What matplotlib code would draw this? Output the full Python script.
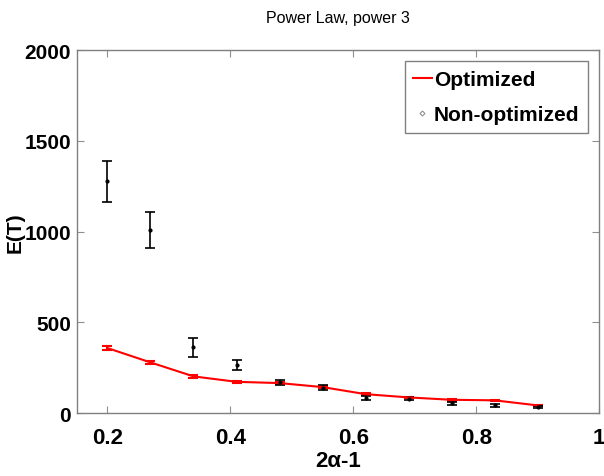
import matplotlib
matplotlib.use("Agg")
import matplotlib.pyplot as plt
from matplotlib.lines import Line2D

# data
alpha = [0.2, 0.27, 0.34, 0.41, 0.48, 0.55, 0.62, 0.69, 0.76, 0.83, 0.90]
optimized = [358, 279, 202, 172, 165, 143, 104, 86, 73, 70, 42]
optimized_err = [12, 8, 7, 6, 5, 5, 5, 4, 4, 4, 4]
non_optimized = [1277, 1010, 362, 264, 170, 140, 82, 78, 53, 44, 33]
non_optimized_err = [113, 98, 53, 29, 14, 14, 10, 8, 8, 8, 8]

x_ticks = [0.2, 0.4, 0.6, 0.8, 1.0]
x_ticklabels = ["0.2", "0.4", "0.6", "0.8", "1"]
y_ticks = [0, 500, 1000, 1500, 2000]

plt.rcParams["font.family"] = ["Liberation Sans", "DejaVu Sans"]

fig = plt.figure(figsize=(6.04, 4.77), dpi=100)
ax = fig.add_axes([0.127, 0.132, 0.865, 0.761])

ax.errorbar(alpha, optimized, yerr=optimized_err, color="#ff0000", lw=1.5,
            capsize=3.5, capthick=1.5, elinewidth=1.5)
ax.errorbar(alpha, non_optimized, yerr=non_optimized_err, fmt=".", color="black",
            ms=4, capsize=3.5, capthick=1.2, elinewidth=1.2)

ax.set_xlim(0.15, 1.0)
ax.set_ylim(0, 2000)
ax.set_xticks(x_ticks)
ax.set_xticklabels(x_ticklabels)
ax.set_yticks(y_ticks)
for lab in ax.get_xticklabels():
    lab.set_fontsize(16)
    lab.set_fontweight("bold")
for lab in ax.get_yticklabels():
    lab.set_fontsize(15)
    lab.set_fontweight("bold")

ax.tick_params(axis="x", pad=10)
ax.tick_params(axis="y", pad=4)
ax.tick_params(direction="in", length=5, color="#909090", top=True, right=True)
for sp in ax.spines.values():
    sp.set_color("#808080")
    sp.set_linewidth(1.0)

ax.set_title("Power Law, power 3", fontsize=11.5, pad=20)
ax.set_xlabel("2\u03b1-1", fontsize=16, fontweight="bold")
ax.set_ylabel("E(T)", fontsize=15, fontweight="bold")
ax.xaxis.set_label_coords(0.5, -0.102)
ax.yaxis.set_label_coords(-0.1, 0.5)

# legend: plain red line, and a tiny grey diamond for the non-optimized runs
handles = [
    Line2D([], [], color="#ff0000", lw=1.5),
    Line2D([], [], ls="none", marker="D", ms=2.5, mfc="white", mec="#909090", mew=0.8),
]
leg = ax.legend(handles, ["Optimized", "Non-optimized"], loc="upper right",
                prop={"size": 15, "weight": "bold"},
                handlelength=0.9, handletextpad=0.1, borderpad=0.4,
                labelspacing=0.8, fancybox=False, framealpha=1,
                borderaxespad=0.55)
leg.get_frame().set_edgecolor("#808080")
leg.get_frame().set_linewidth(1.0)

fig.savefig("out.png", dpi=100)
